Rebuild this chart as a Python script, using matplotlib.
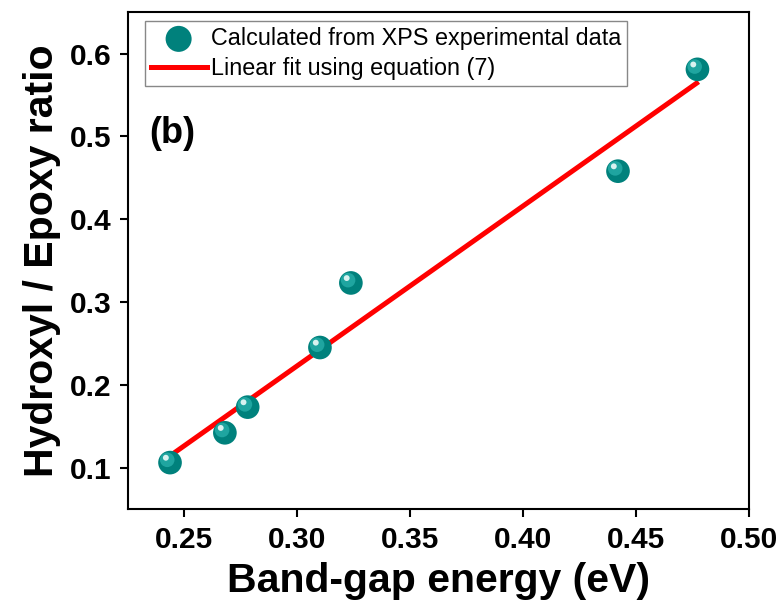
import numpy as np
import matplotlib
matplotlib.use('Agg')
import matplotlib.pyplot as plt
from matplotlib.transforms import offset_copy

# dados
band_gap = [0.2436, 0.2679, 0.2780, 0.3100, 0.3237, 0.4420, 0.4772]
hydroxyl_epoxy = [0.106, 0.142, 0.173, 0.245, 0.323, 0.458, 0.581]

# ajuste linear (extremos da reta)
fit_x = [0.2430, 0.4777]
fit_y = [0.113, 0.566]

x_ticks = [0.25, 0.30, 0.35, 0.40, 0.45, 0.50]
y_ticks = [0.1, 0.2, 0.3, 0.4, 0.5, 0.6]

plt.rcParams['font.family'] = 'Liberation Sans'

fig = plt.figure(figsize=(7.83, 6.11), dpi=100)
ax = fig.add_axes([0.1635, 0.167, 0.793, 0.813])

ax.plot(fit_x, fit_y, color='#ff0000', lw=3.6, zorder=2, solid_capstyle='butt')

# esferas: base + brilho
pts = ax.scatter(band_gap, hydroxyl_epoxy, s=290, color='#00817c', edgecolor='none', zorder=3)
tr = offset_copy(ax.transData, fig=fig, x=-2, y=2, units='points')
ax.scatter(band_gap, hydroxyl_epoxy, s=110, color='#1fa5a0', edgecolor='none', zorder=4, transform=tr)
tr2 = offset_copy(ax.transData, fig=fig, x=-3, y=3.5, units='points')
ax.scatter(band_gap, hydroxyl_epoxy, s=18, color='#d8f2f0', edgecolor='none', zorder=5, transform=tr2)

ax.set_xlim(0.225, 0.50)
ax.set_ylim(0.05, 0.65)
ax.set_xticks(x_ticks)
ax.set_yticks(y_ticks)
ax.set_xticklabels([f'{v:.2f}' for v in x_ticks])
ax.set_yticklabels([f'{v:.1f}' for v in y_ticks])

for s in ax.spines.values():
    s.set_linewidth(1.5)
ax.tick_params(direction='out', length=6, width=1.5, labelsize=21.5, pad=6)
for lab in ax.get_xticklabels() + ax.get_yticklabels():
    lab.set_fontweight('bold')

ax.set_xlabel('Band-gap energy (eV)', fontsize=29.5, fontweight='bold', labelpad=6)
ax.set_ylabel('Hydroxyl / Epoxy ratio', fontsize=29.5, fontweight='bold', labelpad=6)

ax.text(0.034, 0.755, '(b)', transform=ax.transAxes, fontsize=26, fontweight='bold',
        va='center', ha='left')

line_handle, = ax.plot([], [], color='#ff0000', lw=3.6)
leg = ax.legend([pts, line_handle],
                ['Calculated from XPS experimental data', 'Linear fit using equation (7)'],
                loc='upper left', bbox_to_anchor=(0.027, 0.982), fontsize=16.8,
                frameon=True, fancybox=False, edgecolor='#888888', framealpha=1,
                borderpad=0.25, handlelength=2.4, handletextpad=0.2, labelspacing=0.3,
                borderaxespad=0, scatterpoints=1, markerscale=1.1)
leg.get_frame().set_linewidth(1.0)

fig.savefig('out.png', dpi=100)
